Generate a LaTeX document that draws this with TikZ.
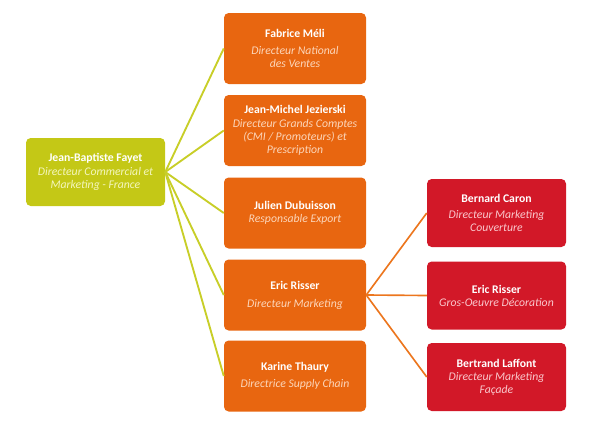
\documentclass[tikz,border=0pt]{standalone}
\usepackage{fontspec}
\setmainfont{Carlito}
\usepackage{tikz}
\usetikzlibrary{positioning}
\definecolor{OliveBox}{RGB}{196,200,22}
\definecolor{OliveLine}{RGB}{200,206,40}
\definecolor{OliveText}{RGB}{244,246,190}
\definecolor{OrangeBox}{RGB}{232,102,16}
\definecolor{OrangeLine}{RGB}{236,118,30}
\definecolor{OrangeText}{RGB}{252,214,186}
\definecolor{RedBox}{RGB}{210,24,40}
\definecolor{RedText}{RGB}{250,200,205}
\newcommand{\who}[1]{\textbf{#1}}

\begin{document}
\begin{tikzpicture}[
 head/.style={draw=none, fill=OliveBox, rounded corners=4pt, align=center, minimum width=4.17cm, minimum height=2.04cm, text=white},
 mgr/.style={draw=none, fill=OrangeBox, rounded corners=4pt, align=center, minimum width=4.26cm, minimum height=2.13cm, text=white},
 sub/.style={draw=none, fill=RedBox, rounded corners=4pt, align=center, minimum width=4.17cm, minimum height=2.04cm, text=white},
 link/.style={OliveLine, line width=1.6pt},
 sublink/.style={OrangeLine, line width=1.4pt},
 font=\fontsize{10}{11.2}\selectfont
]
\useasboundingbox (0,0) rectangle (17.67,-12.9);

\node[head] (fayet) at (2.865,-5.16) {\who{Jean-Baptiste Fayet}\\\color{OliveText}\itshape Directeur Commercial et\\\color{OliveText}\itshape Marketing - France};

\node[mgr] (meli) at (8.85,-1.455) {\who{Fabrice Méli}\\[3pt]\color{OrangeText}\itshape Directeur National\\\color{OrangeText}\itshape des Ventes};
\node[mgr] (jezierski) at (8.85,-3.915) {\who{Jean-Michel Jezierski}\\[1pt]\color{OrangeText}\itshape Directeur Grands Comptes\\\color{OrangeText}\itshape (CMI / Promoteurs) et\\\color{OrangeText}\itshape Prescription};
\node[mgr] (dubuisson) at (8.85,-6.39) {\who{Julien Dubuisson}\\\color{OrangeText}\itshape Responsable Export};
\node[mgr] (risser) at (8.85,-8.85) {\who{Eric Risser}\\[4pt]\color{OrangeText}\itshape Directeur Marketing};
\node[mgr] (thaury) at (8.85,-11.28) {\who{Karine Thaury}\\[3pt]\color{OrangeText}\itshape Directrice Supply Chain};

\node[sub] (caron) at (14.895,-6.39) {\who{Bernard Caron}\\[2pt]\color{RedText}\itshape Directeur Marketing\\\color{RedText}\itshape Couverture};
\node[sub] (risser2) at (14.895,-8.865) {\who{Eric Risser}\\\color{RedText}\itshape Gros-Oeuvre Décoration};
\node[sub] (laffont) at (14.895,-11.31) {\who{Bertrand Laffont}\\\color{RedText}\itshape Directeur Marketing\\\color{RedText}\itshape Façade};

\draw[link] (fayet.east) -- (meli.west);
\draw[link] (fayet.east) -- (jezierski.west);
\draw[link] (fayet.east) -- (dubuisson.west);
\draw[link] (fayet.east) -- (risser.west);
\draw[link] (fayet.east) -- (thaury.west);
\draw[sublink] (risser.east) -- (caron.west);
\draw[sublink] (risser.east) -- (risser2.west);
\draw[sublink] (risser.east) -- (laffont.west);
\end{tikzpicture}
\end{document}
